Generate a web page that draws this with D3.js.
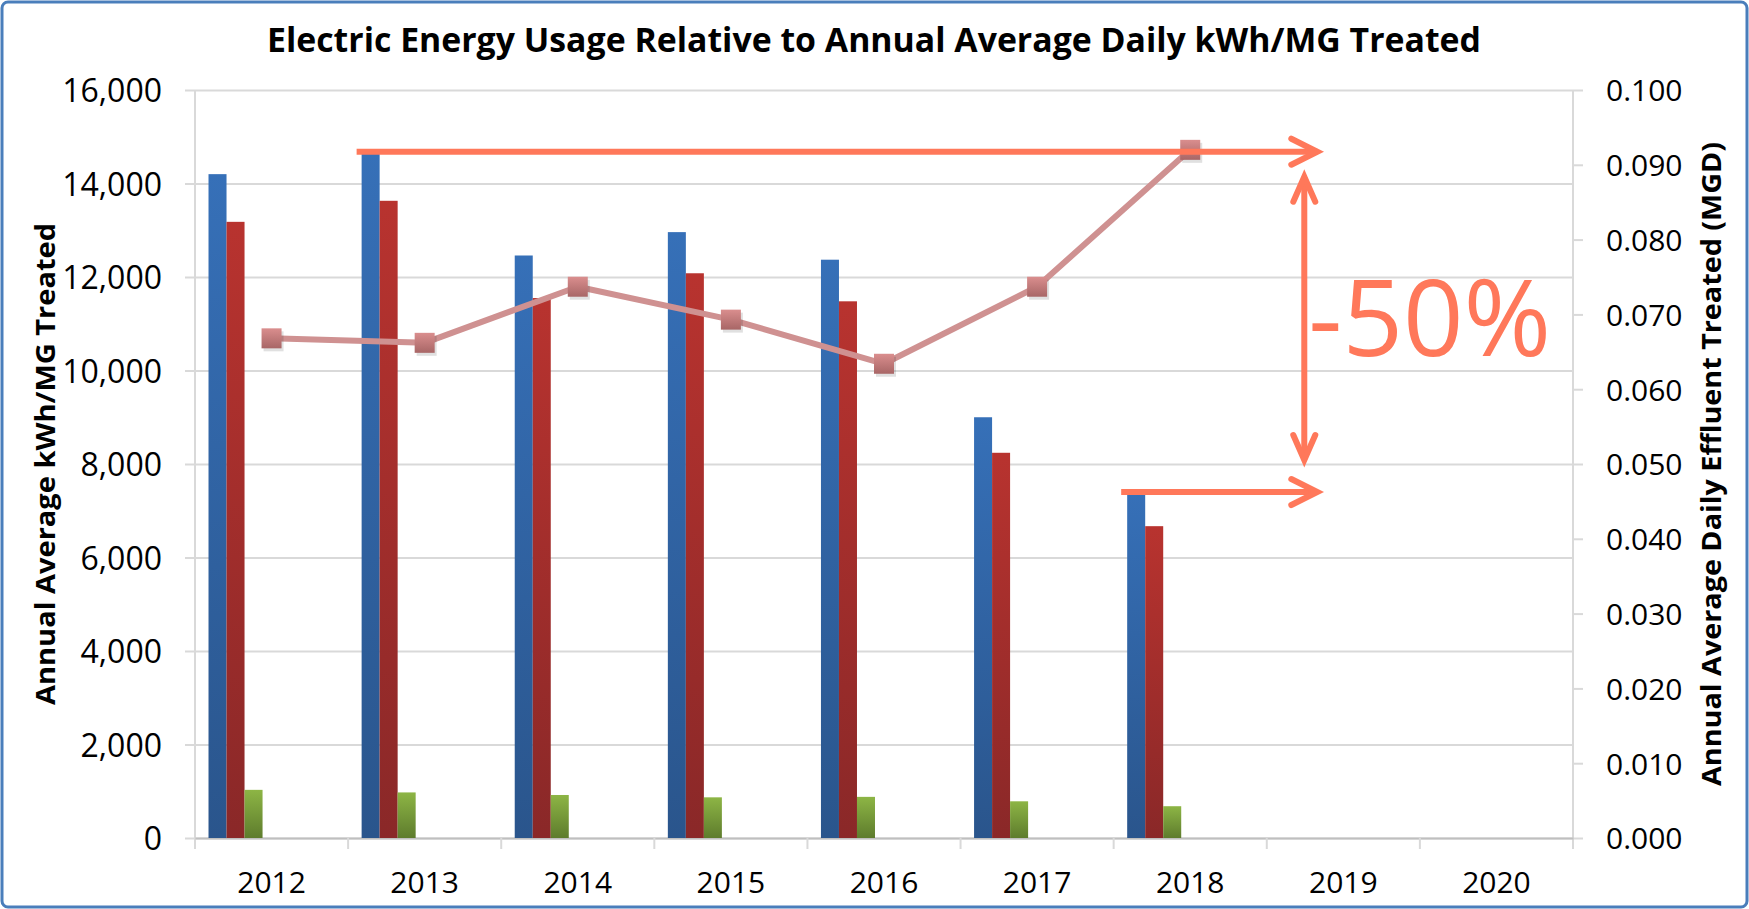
<!DOCTYPE html>
<html>
<head>
<meta charset="utf-8">
<script src="https://cdn.jsdelivr.net/npm/d3@7"></script>
<style>
  body { margin: 0; background: #fff; }
  svg { display: block; }
</style>
</head>
<body>
<div class="wrapper"><svg></svg></div>
<script>
// chart data
var years = ["2012", "2013", "2014", "2015", "2016", "2017", "2018", "2019", "2020"];
var blueVals = [14200, 14680, 12460, 12960, 12370, 9000, 7400];
var redVals = [13180, 13630, 11550, 12080, 11480, 8240, 6670];
var greenVals = [1030, 975, 920, 870, 880, 785, 680];
var flowVals = [0.0668, 0.0662, 0.0737, 0.0693, 0.0634, 0.0737, 0.0920];
var leftTicks = [0, 2000, 4000, 6000, 8000, 10000, 12000, 14000, 16000];
var rightTicks = [0, 0.01, 0.02, 0.03, 0.04, 0.05, 0.06, 0.07, 0.08, 0.09, 0.1];
var titleText = "Electric Energy Usage Relative to Annual Average Daily kWh/MG Treated";
var leftLabel = "Annual Average kWh/MG Treated";
var rightLabel = "Annual Average Daily Effluent Treated (MGD)";
var noteText = "-50%";

var W = 1749, H = 909;
var plot = {left: 195, right: 1573, top: 90, bottom: 838};
var arrowColor = "#ff785a";

var svg = d3.select(".wrapper svg").attr("width", W).attr("height", H);
var defs = svg.append("defs");

function grad(id, top, bottom) {
    var g = defs.append("linearGradient").attr("id", id)
        .attr("x1", 0).attr("y1", 0).attr("x2", 0).attr("y2", 1);
    g.append("stop").attr("offset", "0%").attr("stop-color", top);
    g.append("stop").attr("offset", "100%").attr("stop-color", bottom);
}
grad("gBlue", "#3670b8", "#2a558c");
grad("gRed", "#b8332f", "#8a2828");
grad("gGreen", "#8db545", "#5e7c2d");
grad("gMark", "#da8e8e", "#a86666");

// outer border
svg.append("rect")
    .attr("x", 2).attr("y", 2).attr("width", W - 4).attr("height", H - 4)
    .attr("rx", 6)
    .attr("fill", "#fff").attr("stroke", "#4a7ebb").attr("stroke-width", 3);

var x0 = d3.scaleBand().domain(years).range([plot.left, plot.right]).padding(0);
var slot = d3.scaleBand().domain(d3.range(7)).range([0, x0.bandwidth()])
    .paddingInner(0).paddingOuter(0.75);
var yL = d3.scaleLinear().domain([0, 16000]).range([plot.bottom, plot.top]);
var yR = d3.scaleLinear().domain([0, 0.1]).range([plot.bottom, plot.top]);

// gridlines + left axis
var leftAxis = d3.axisLeft(yL).tickValues(leftTicks)
    .tickSize(0).tickPadding(0)
    .tickFormat(d3.format(","));
var gl = svg.append("g").attr("transform", "translate(" + (plot.left - 10) + ",0)")
    .call(leftAxis);
gl.select(".domain").remove();
gl.selectAll(".tick line")
    .attr("x1", 0).attr("x2", plot.right - plot.left + 10)
    .attr("stroke", "#d9d9d9").attr("stroke-width", 2);
gl.selectAll(".tick text")
    .attr("x", -23).attr("dy", "0.36em")
    .attr("font-family", "Open Sans").attr("font-size", 32).attr("fill", "#000");

// vertical axis lines
svg.append("line").attr("x1", plot.left).attr("x2", plot.left)
    .attr("y1", plot.top).attr("y2", plot.bottom + 11)
    .attr("stroke", "#d9d9d9").attr("stroke-width", 2);
svg.append("line").attr("x1", plot.right).attr("x2", plot.right)
    .attr("y1", plot.top).attr("y2", plot.bottom + 11)
    .attr("stroke", "#d9d9d9").attr("stroke-width", 2);

// right axis
var rightAxis = d3.axisRight(yR).tickValues(rightTicks).tickSize(10).tickPadding(23)
    .tickFormat(d3.format(".3f"));
var gr = svg.append("g").attr("transform", "translate(" + plot.right + ",0)").call(rightAxis);
gr.select(".domain").remove();
gr.selectAll(".tick line").attr("stroke", "#d9d9d9").attr("stroke-width", 2);
gr.selectAll(".tick text").attr("dy", "0.36em")
    .attr("font-family", "Open Sans").attr("font-size", 30).attr("fill", "#000");

// bottom axis
var bottomAxis = d3.axisBottom(x0).tickSize(0).tickPadding(0);
var gb = svg.append("g").attr("transform", "translate(0," + plot.bottom + ")").call(bottomAxis);
gb.select(".domain").attr("stroke", "#bfbfbf").attr("stroke-width", 2);
gb.selectAll(".tick text").attr("y", 55).attr("dy", 0)
    .attr("font-family", "Open Sans").attr("font-size", 30).attr("fill", "#000");
svg.append("g").selectAll("line").data(years.slice(1)).enter().append("line")
    .attr("x1", function(d) { return x0(d); }).attr("x2", function(d) { return x0(d); })
    .attr("y1", plot.bottom).attr("y2", plot.bottom + 11)
    .attr("stroke", "#d9d9d9").attr("stroke-width", 2);

// bars
var series = [
    {vals: blueVals, fill: "url(#gBlue)"},
    {vals: redVals, fill: "url(#gRed)"},
    {vals: greenVals, fill: "url(#gGreen)"}
];
series.forEach(function(s, si) {
    svg.append("g").selectAll("rect").data(s.vals).enter().append("rect")
        .attr("x", function(v, i) { return x0(years[i]) + slot(si); })
        .attr("width", slot.bandwidth())
        .attr("y", function(v) { return yL(v); })
        .attr("height", function(v) { return yL(0) - yL(v); })
        .attr("fill", s.fill);
});

// line on secondary axis
var cx = function(v, i) { return x0(years[i]) + x0.bandwidth() / 2; };
var line = d3.line().x(cx).y(function(v) { return yR(v); });
svg.append("path").datum(flowVals)
    .attr("d", line).attr("fill", "none")
    .attr("stroke", "#cf9191").attr("stroke-width", 6).attr("stroke-linejoin", "round");
var mk = svg.append("g").selectAll("g").data(flowVals).enter().append("g")
    .attr("transform", function(v, i) { return "translate(" + cx(v, i) + "," + yR(v) + ")"; });
mk.append("rect").attr("x", -8).attr("y", -7).attr("width", 20).attr("height", 20)
    .attr("fill", "#000").attr("opacity", 0.12);
mk.append("rect").attr("x", -10).attr("y", -10).attr("width", 20).attr("height", 20)
    .attr("fill", "url(#gMark)");

// annotation arrows
var ann = svg.append("g").attr("stroke", arrowColor).attr("stroke-width", 6)
    .attr("stroke-linecap", "round").attr("fill", "none");
var arrowEnd = x0("2019") + x0.bandwidth() * 0.33;
var vx = x0("2019") + x0.bandwidth() * 0.245;
var topY = yL(blueVals[1]);
var lowY = yL(blueVals[6]);

function hArrow(xs, y) {
    ann.append("line").attr("x1", xs).attr("x2", arrowEnd).attr("y1", y).attr("y2", y)
        .attr("stroke-linecap", "butt");
    ann.append("path").attr("d", "M" + (arrowEnd - 26) + "," + (y - 13) + "L" + arrowEnd + "," + y +
        "L" + (arrowEnd - 26) + "," + (y + 13));
}
hArrow(x0("2013") + slot(0) - 5, topY);
hArrow(x0("2018") + slot(0) - 6, lowY);

var vTop = topY + 25, vBot = lowY - 32;
ann.append("line").attr("x1", vx).attr("x2", vx).attr("y1", vTop + 2).attr("y2", vBot - 2);
ann.append("path").attr("d", "M" + (vx - 11) + "," + (vTop + 25) + "L" + vx + "," + vTop +
    "L" + (vx + 11) + "," + (vTop + 25));
ann.append("path").attr("d", "M" + (vx - 11) + "," + (vBot - 25) + "L" + vx + "," + vBot +
    "L" + (vx + 11) + "," + (vBot - 25));

svg.append("text").attr("x", vx + 4).attr("y", 356)
    .attr("font-family", "Open Sans").attr("font-size", 106).attr("fill", arrowColor)
    .text(noteText);

// titles
function fit(t, len) {
    t.attr("textLength", len).attr("lengthAdjust", "spacingAndGlyphs");
}
var title = svg.append("text").attr("x", 874).attr("y", 52).attr("text-anchor", "middle")
    .attr("font-family", "Open Sans").attr("font-weight", "bold").attr("font-size", 34)
    .text(titleText);
fit(title, 1214);

var lt = svg.append("text").attr("transform", "translate(55,464) rotate(-90)")
    .attr("text-anchor", "middle")
    .attr("font-family", "Open Sans").attr("font-weight", "bold").attr("font-size", 26)
    .text(leftLabel);
fit(lt, 482);

var rt = svg.append("text").attr("transform", "translate(1721,464) rotate(-90)")
    .attr("text-anchor", "middle")
    .attr("font-family", "Open Sans").attr("font-weight", "bold").attr("font-size", 26)
    .text(rightLabel);
fit(rt, 644);
</script>
</body>
</html>
